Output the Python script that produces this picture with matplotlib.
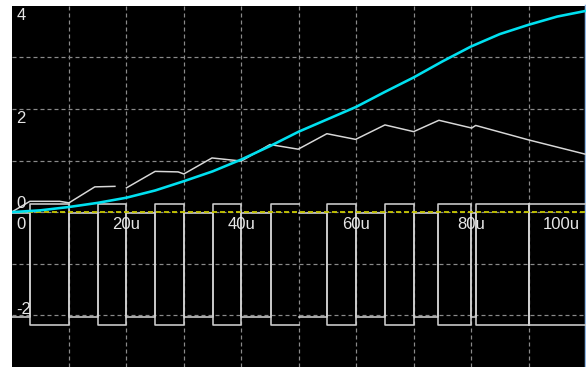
import numpy as np
import matplotlib
matplotlib.use("Agg")
import matplotlib.pyplot as plt

plt.rcParams["lines.scale_dashes"] = False
plt.rcParams["font.family"] = ["Liberation Sans Narrow", "Liberation Sans", "DejaVu Sans"]

# ---- data (time in microseconds) ----
t_cap = [0, 5, 10, 15, 20, 25, 30, 35, 40, 45, 50, 55, 60, 65, 70, 75, 80, 85, 90, 95, 100]
v_cap = [0.0, 0.035, 0.10, 0.18, 0.28, 0.42, 0.60, 0.79, 1.02, 1.28, 1.56, 1.80, 2.04,
         2.33, 2.61, 2.92, 3.21, 3.45, 3.63, 3.79, 3.90]

t_ripple = [0, 3.2, 8.4, 10.0, 14.5, 18.0, 19.0, 20.0, 25.0, 29.0, 30.0, 34.9, 40.0,
            45.0, 49.9, 54.9, 59.9, 65.0, 70.0, 74.4, 80.1, 80.8, 90.0, 100.0]
v_ripple = [0.0, 0.21, 0.21, 0.18, 0.49, 0.50, np.nan, 0.47, 0.79, 0.78, 0.74, 1.05, 0.99,
            1.31, 1.22, 1.52, 1.41, 1.69, 1.56, 1.78, 1.63, 1.68, 1.40, 1.12]

rise_us = [3.3, 15.1, 25.0, 35.0, 45.1, 54.9, 65.0, 74.3, 80.8, 90.0]
fall_us = [10.0, 20.0, 30.0, 40.0, 50.0, 60.0, 70.0, 80.0, 90.0]
gap_us = [50.0]          # edges with no sample drawn
t_end = 100.0

gate_hi_on, gate_hi_off = 0.15, -2.03
gate_lo_on, gate_lo_off = -2.19, -0.02

x_tick_vals = [0, 20, 40, 60, 80, 100]
x_tick_text = ["0", "20u", "40u", "60u", "80u", "100u"]
y_tick_vals = [4, 2, 0, -2]
y_tick_text = ["4", "2", "0", "-2"]


def step_trace(on, off):
    xs, ys = [0.0], [off]
    for i, r in enumerate(rise_us):
        xs += [r, r]
        ys += [off, on]
        if i < len(fall_us):
            f = fall_us[i]
            if f in gap_us:
                xs += [f, f, f]
                ys += [on, np.nan, off]
            else:
                xs += [f, f]
                ys += [on, off]
    xs.append(t_end)
    ys.append(on)
    return xs, ys


W, H = 586, 367
fig = plt.figure(figsize=(W / 100, H / 100), dpi=100)
fig.patch.set_facecolor("white")
left_px, top_px = 11.5, 5.7
ax = fig.add_axes([left_px / W, 0, (W - left_px) / W, (H - top_px) / H])
ax.set_facecolor("black")
ax.set_xlim(0, 100)
ax.set_ylim(-3, 4)

px = 0.72  # one pixel in points
ax.set_xticks(np.arange(10, 100, 10))
ax.set_yticks(np.arange(-2, 4, 1))
ax.tick_params(length=0, labelbottom=False, labelleft=False)
ax.grid(True, color="#8a8a8a", linestyle=(0, (4 * px, 3 * px)), linewidth=1.2 * px, zorder=1)
ax.set_axisbelow(True)
for s in ("left", "top", "bottom"):
    ax.spines[s].set_visible(False)
ax.spines["right"].set_color("#8fb8e8")
ax.spines["right"].set_linewidth(2.5 * px)

# gate / switching waveforms
gx, gy = step_trace(gate_hi_on, gate_hi_off)
ax.plot(gx, gy, color="#cfcfcf", linewidth=1.6 * px, zorder=3)
gx, gy = step_trace(gate_lo_on, gate_lo_off)
ax.plot(gx, gy, color="#cfcfcf", linewidth=1.6 * px, zorder=3)

# zero reference
ax.plot([0, 100], [0, 0], color="#c8c800", linestyle=(0, (5 * px, 3 * px)),
        linewidth=1.8 * px, zorder=4)

# ripple trace
ax.plot(t_ripple, v_ripple, color="#d8d8d8", linewidth=1.5 * px, zorder=4)

# capacitor voltage
ax.plot(t_cap, v_cap, color="#00e0f0", linewidth=2.6 * px, zorder=5)

# axis labels drawn inside the plot
fs = 12
tc = "#e6e6e6"
for v, s in zip(x_tick_vals, x_tick_text):
    if v == 0:
        ha, dx = "left", 5
    elif v == 100:
        ha, dx = "right", -6
    else:
        ha, dx = "center", 0
    ax.annotate(s, (v, 0), xytext=(dx, -4.5), textcoords="offset pixels",
                ha=ha, va="top", color=tc, fontsize=fs, zorder=6)

for v, s in zip(y_tick_vals, y_tick_text):
    if v > 0:
        ax.annotate(s, (0, v), xytext=(5, -2.5), textcoords="offset pixels",
                    ha="left", va="top", color=tc, fontsize=fs, zorder=6)
    else:
        dy = 4 if v == 0 else 1.5
        ax.annotate(s, (0, v), xytext=(5, dy), textcoords="offset pixels",
                    ha="left", va="baseline", color=tc, fontsize=fs, zorder=6)

fig.savefig("out.png", dpi=100, facecolor=fig.get_facecolor())
